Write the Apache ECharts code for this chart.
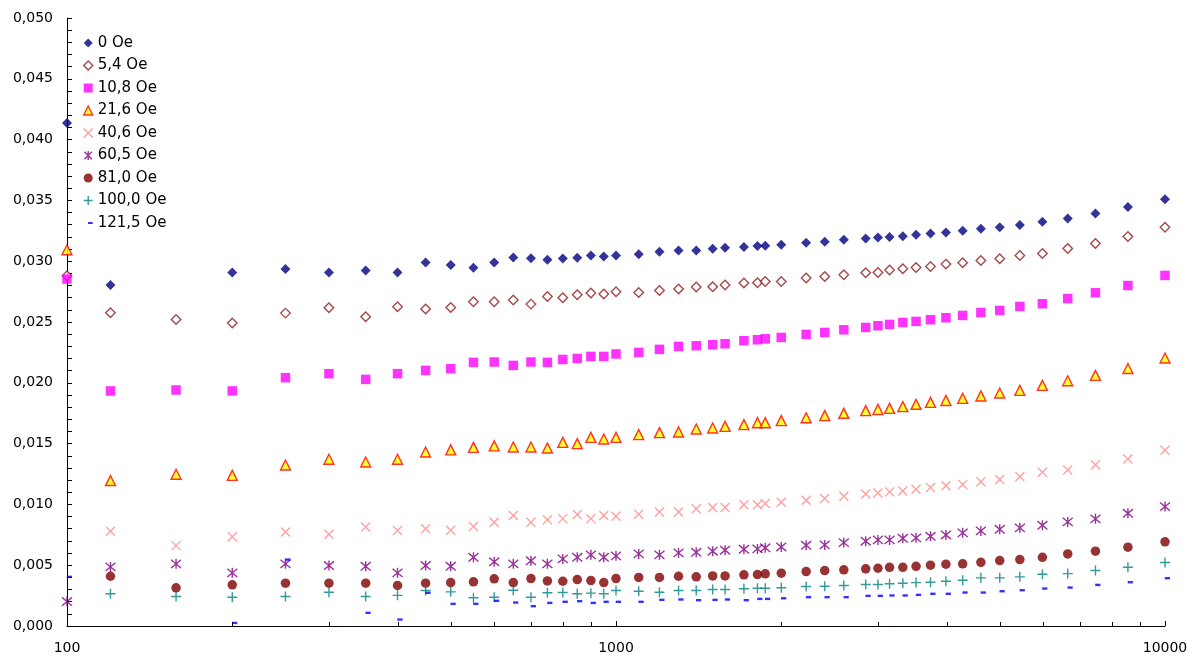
<!DOCTYPE html>
<html>
<head>
<meta charset="utf-8">
<script src="https://cdn.jsdelivr.net/npm/echarts@6/dist/echarts.min.js"></script>
<style>
html,body{margin:0;padding:0;background:#fff;}
#main{width:1204px;height:660px;}
</style>
</head>
<body>
<div id="main"></div>
<script>
// x values (log axis)
const X_VALUES = [100, 120, 158, 200, 250, 300, 350, 400, 450, 500,
  550, 600, 650, 700, 750, 800, 850, 900, 950, 1000,
  1100, 1200, 1300, 1400, 1500, 1580, 1710, 1810, 1870, 2000,
  2220, 2400, 2600,
  2850, 3000, 3150, 3330, 3520, 3740, 3990, 4280, 4620, 5000, 5440, 5980, 6650, 7470, 8560, 10000];

const SERIES_NAMES = ['0 Oe', '5,4 Oe', '10,8 Oe', '21,6 Oe', '40,6 Oe', '60,5 Oe', '81,0 Oe', '100,0 Oe', '121,5 Oe'];

const S_0_0 = [0.04137, 0.02804, null, 0.02907, 0.02935, 0.02907, 0.02924, 0.02907, 0.02989, 0.02968,
  0.02946, 0.02989, 0.03031, 0.03025, 0.03012, 0.03023, 0.03028, 0.03047, 0.03039, 0.03047,
  0.03058, 0.03077, 0.03088, 0.03088, 0.03102, 0.0311, 0.03116, 0.03124, 0.03127, 0.03135,
  0.03151, 0.0316, 0.03176,
  0.03187, 0.03195, 0.032, 0.03206, 0.03217, 0.03228, 0.03236, 0.0325, 0.03266, 0.0328, 0.03297, 0.03324, 0.03351, 0.03392, 0.03445, 0.0351];

const S_5_4 = [0.0288, 0.02576, 0.02521, 0.02491, 0.02573, 0.02617, 0.02543, 0.02625, 0.02606, 0.0262,
  0.02666, 0.02666, 0.0268, 0.02647, 0.0271, 0.02699, 0.02724, 0.02738, 0.0273, 0.02749,
  0.02743, 0.02759, 0.02771, 0.02787, 0.0279, 0.02804, 0.0282, 0.02823, 0.02833, 0.02833,
  0.02861, 0.02874, 0.02888,
  0.02905, 0.02907, 0.02927, 0.02938, 0.02948, 0.02957, 0.02976, 0.02987, 0.03006, 0.0302, 0.03047, 0.03063, 0.03104, 0.03146, 0.03203, 0.0328];

const S_10_8 = [0.02853, 0.01933, 0.01941, 0.01933, 0.02042, 0.02075, 0.02028, 0.02075, 0.02102, 0.02116,
  0.02168, 0.02171, 0.02143, 0.02171, 0.02168, 0.02192, 0.022, 0.02217, 0.02217, 0.02237,
  0.0225, 0.02275, 0.02299, 0.02305, 0.02313, 0.02321, 0.02346, 0.02354, 0.02362, 0.02373,
  0.02398, 0.02414, 0.02436,
  0.02455, 0.02469, 0.0248, 0.02496, 0.02505, 0.02519, 0.02535, 0.02554, 0.02578, 0.02595, 0.02628, 0.0265, 0.02693, 0.0274, 0.028, 0.02883];

const S_21_6 = [0.03094, 0.01196, 0.01248, 0.01239, 0.01324, 0.01371, 0.01349, 0.01371, 0.01431, 0.01448,
  0.01469, 0.01481, 0.01472, 0.01472, 0.01464, 0.0151, 0.015, 0.01551, 0.01538, 0.01551,
  0.01574, 0.0159, 0.01596, 0.0162, 0.01628, 0.01642, 0.01656, 0.01672, 0.01672, 0.01689,
  0.01713, 0.0173, 0.01749,
  0.01771, 0.01781, 0.0179, 0.01804, 0.01823, 0.01839, 0.01855, 0.01872, 0.01892, 0.01916, 0.01938, 0.01979, 0.02017, 0.02061, 0.02118, 0.02204];

const S_40_6 = [null, 0.00779, 0.00661, 0.00733, 0.00774, 0.00754, 0.00815, 0.00785, 0.00799, 0.00788,
  0.00818, 0.00853, 0.00908, 0.00853, 0.00873, 0.00883, 0.00916, 0.00883, 0.00908, 0.00902,
  0.00919, 0.00938, 0.00938, 0.00965, 0.00974, 0.00974, 0.00998, 0.00998, 0.01007, 0.01017,
  0.01034, 0.01048, 0.01067,
  0.01086, 0.01094, 0.01103, 0.01111, 0.01124, 0.01138, 0.01153, 0.01164, 0.01186, 0.01205, 0.01228, 0.01264, 0.01283, 0.01327, 0.01374, 0.01445];

const S_60_5 = [0.00201, 0.00486, 0.00511, 0.00437, 0.00511, 0.00497, 0.00491, 0.00437, 0.00497, 0.00491,
  0.00565, 0.00528, 0.00511, 0.00536, 0.00511, 0.00552, 0.00565, 0.00585, 0.00565, 0.00577,
  0.00593, 0.00585, 0.00601, 0.00606, 0.00615, 0.00623, 0.00631, 0.00634, 0.00643, 0.0065,
  0.00664, 0.00667, 0.00686,
  0.00697, 0.00708, 0.00708, 0.00721, 0.00725, 0.00738, 0.00749, 0.00766, 0.00782, 0.00795, 0.00807, 0.00828, 0.00856, 0.00881, 0.00927, 0.00982];

const S_81_0 = [null, 0.00409, 0.00314, 0.00339, 0.00352, 0.00352, 0.00352, 0.00333, 0.00352, 0.00357,
  0.00363, 0.00388, 0.00357, 0.0039, 0.00371, 0.00368, 0.00382, 0.00374, 0.00357, 0.0039,
  0.00399, 0.00399, 0.00409, 0.00404, 0.00412, 0.00412, 0.00421, 0.00423, 0.00429, 0.00434,
  0.00448, 0.00456, 0.00462,
  0.0047, 0.00475, 0.00483, 0.00483, 0.00491, 0.005, 0.00508, 0.00511, 0.00524, 0.00538, 0.00546, 0.00565, 0.00593, 0.00615, 0.00648, 0.00692];

const S_100_0 = [null, 0.00265, 0.00242, 0.00237, 0.00242, 0.00278, 0.00242, 0.00252, 0.00292, 0.00281,
  0.00232, 0.00237, 0.00294, 0.00237, 0.00273, 0.00275, 0.00265, 0.0027, 0.00265, 0.00292,
  0.00286, 0.00278, 0.00292, 0.00292, 0.003, 0.003, 0.00306, 0.00311, 0.00311, 0.00314,
  0.00325, 0.00327, 0.00333,
  0.00341, 0.00341, 0.00347, 0.00352, 0.00357, 0.0036, 0.00368, 0.00376, 0.00396, 0.00396, 0.00404, 0.00426, 0.00431, 0.00456, 0.00483, 0.00522];

const S_121_5 = [0.00404, null, null, 0.00025, 0.00546, null, 0.00108, 0.00053, 0.00273, 0.00182,
  0.00182, 0.00207, 0.00193, 0.00163, 0.0019, 0.00199, 0.00204, 0.0019, 0.00199, 0.00199,
  0.00199, 0.00215, 0.00218, 0.00212, 0.00215, 0.00218, 0.00212, 0.00223, 0.00223, 0.00228,
  0.00237, 0.00237, 0.00237,
  0.00248, 0.00248, 0.00251, 0.00251, 0.00256, 0.00265, 0.00265, 0.00275, 0.00275, 0.00286, 0.00294, 0.00308, 0.00316, 0.00338, 0.0036, 0.00393];

// axis tick values
const Y_MIN = 0, Y_MAX = 0.05, Y_INTERVAL = 0.005;
const X_MIN = 100, X_MAX = 10000;
const X_MINOR_TICKS = [200, 300, 400, 500, 600, 700, 800, 900, 2000, 3000, 4000, 5000, 6000, 7000, 8000, 9000];

const SERIES_VALUES = [S_0_0, S_5_4, S_10_8, S_21_6, S_40_6, S_60_5, S_81_0, S_100_0, S_121_5];

const FONT = 'DejaVu Sans';
const DASH_PATH = 'path://M0,0M10,10M5,3.8L10.5,3.8L10.5,6.2L5,6.2Z';
const STYLES = [
  { symbol: 'diamond', size: 10, itemStyle: { color: '#000080' } },
  { symbol: 'diamond', size: 9.5, itemStyle: { color: '#ffffff', borderColor: '#8c1c1c', borderWidth: 1.4 } },
  { symbol: 'rect', size: 9.5, itemStyle: { color: '#ff00ff' } },
  { symbol: 'triangle', size: 10, itemStyle: { color: '#ffff00', borderColor: '#ff0000', borderWidth: 1.4 } },
  { symbol: 'path://M0,0L10,10M10,0L0,10', size: 9, itemStyle: { color: 'rgba(0,0,0,0)', borderColor: '#ff8a8a', borderWidth: 1.4 } },
  { symbol: 'path://M0,0L10,10M10,0L0,10M5,-1L5,11', size: 10, itemStyle: { color: 'rgba(0,0,0,0)', borderColor: '#800080', borderWidth: 1.4 } },
  { symbol: 'circle', size: 9.5, itemStyle: { color: '#800000' } },
  { symbol: 'path://M5,0L5,10M0,5L10,5', size: 10, itemStyle: { color: 'rgba(0,0,0,0)', borderColor: '#008080', borderWidth: 1.4 } },
  { symbol: DASH_PATH, size: 10, itemStyle: { color: '#0000ff' } }
];

const series = SERIES_NAMES.map((name, k) => ({
  type: 'scatter',
  name: name,
  data: X_VALUES.map((x, i) => [x, SERIES_VALUES[k][i]]).filter(d => d[1] !== null),
  symbol: STYLES[k].symbol,
  symbolSize: STYLES[k].size,
  itemStyle: STYLES[k].itemStyle,
  clip: false,
  emphasis: { disabled: true }
}));

series.push({
  type: 'custom',
  name: 'xMinorTicks',
  silent: true,
  clip: false,
  z: 10,
  data: X_MINOR_TICKS.map(v => [v, Y_MIN]),
  renderItem: function (params, api) {
    const p = api.coord([api.value(0), api.value(1)]);
    const x = Math.round(p[0]) + 0.5;
    return {
      type: 'line',
      shape: { x1: x, y1: p[1], x2: x, y2: p[1] - 4 },
      style: { stroke: '#000', lineWidth: 1 }
    };
  }
});

const legendData = SERIES_NAMES.map((name, k) => ({
  name: name,
  icon: STYLES[k].symbol,
  itemStyle: Object.assign({ borderWidth: 0 }, STYLES[k].itemStyle)
}));

const option = {
  animation: false,
  backgroundColor: '#ffffff',
  grid: { left: 67, right: 39, top: 18, bottom: 34 },
  legend: {
    data: legendData,
    orient: 'vertical',
    left: 83,
    top: 35,
    padding: 0,
    itemWidth: 9,
    itemHeight: 9,
    itemGap: 6.5,
    selectedMode: false,
    textStyle: { fontFamily: FONT, fontSize: 15, color: '#000', lineHeight: 16 }
  },
  xAxis: {
    type: 'log',
    logBase: 10,
    min: X_MIN,
    max: X_MAX,
    axisLine: { show: true, onZero: false, lineStyle: { color: '#000', width: 1 } },
    axisTick: { show: true, inside: true, length: 5, lineStyle: { color: '#000' } },
    minorTick: { show: false },
    splitLine: { show: false },
    axisLabel: {
      formatter: v => String(Math.round(v)),
      fontFamily: FONT, fontSize: 14, color: '#000', margin: 15
    }
  },
  yAxis: {
    type: 'value',
    min: Y_MIN,
    max: Y_MAX,
    interval: Y_INTERVAL,
    axisLine: { show: true, onZero: false, lineStyle: { color: '#000', width: 1 } },
    axisTick: { show: true, inside: true, length: 5, lineStyle: { color: '#000' } },
    minorTick: { show: true, splitNumber: 5, length: 5, lineStyle: { color: '#000' } },
    splitLine: { show: false },
    axisLabel: {
      formatter: v => v.toFixed(3).replace('.', ','),
      fontFamily: FONT, fontSize: 14, color: '#000', margin: 14
    }
  },
  series: series
};

const chart = echarts.init(document.getElementById('main'), null, { renderer: 'canvas' });
chart.setOption(option);
</script>
</body>
</html>
